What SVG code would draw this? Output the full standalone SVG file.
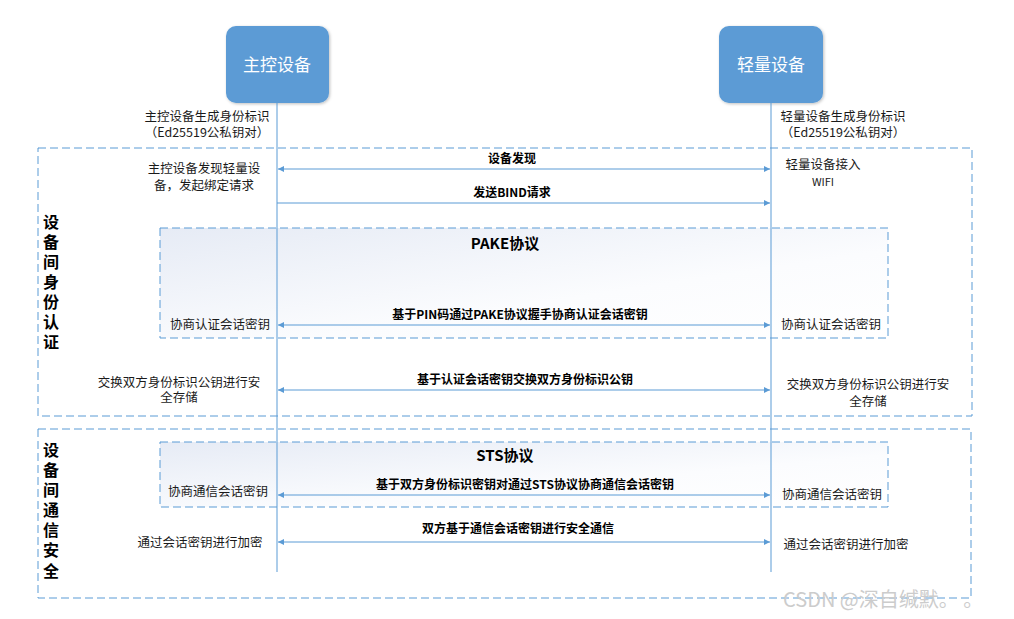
<svg xmlns="http://www.w3.org/2000/svg" width="1014" height="619" viewBox="0 0 1014 619">
<defs>
<style>
.t{font-family:"Noto Sans CJK SC","Liberation Sans",sans-serif;font-size:12.5px;fill:#1a1a1a}
.b{font-family:"Noto Sans CJK SC","Liberation Sans",sans-serif;font-size:12px;font-weight:bold;fill:#000}
.h{font-family:"Noto Sans CJK SC","Liberation Sans",sans-serif;font-size:15px;font-weight:bold;fill:#000}
.v{font-family:"Noto Sans CJK SC","Liberation Sans",sans-serif;font-size:16px;font-weight:bold;fill:#000}
.n{font-family:"Noto Sans CJK SC","Liberation Sans",sans-serif;font-size:17px;fill:#fff}
.box{fill:none;stroke:#5b9bd5;stroke-width:1;stroke-dasharray:8,4}
.ln{stroke:#5b9bd5;stroke-width:1;fill:none}
.node{fill:#5b9bd5}
</style>
<marker id="ah" viewBox="0 0 10 10" refX="10" refY="5" markerWidth="10" markerHeight="6" markerUnits="userSpaceOnUse" orient="auto-start-reverse">
<path d="M0,0 L10,5 L0,10 Z" fill="#5b9bd5"/>
</marker>
<linearGradient id="g" x1="0" y1="0" x2="1" y2="1">
<stop offset="0" stop-color="#e6ebf5"/>
<stop offset="0.6" stop-color="#fbfcfe"/>
<stop offset="1" stop-color="#ffffff"/>
</linearGradient>
<filter id="sh" x="-20%" y="-20%" width="140%" height="140%">
<feDropShadow dx="1" dy="1" stdDeviation="1.5" flood-color="#000" flood-opacity="0.25"/>
</filter>
</defs>
<rect width="1014" height="619" fill="#fff"/>

<g id="section-auth">
<rect class="box" x="38" y="148" width="934" height="268"/>
<text class="v" x="51" y="228" text-anchor="middle">设</text>
<text class="v" x="51" y="248" text-anchor="middle">备</text>
<text class="v" x="51" y="268" text-anchor="middle">间</text>
<text class="v" x="51" y="288" text-anchor="middle">身</text>
<text class="v" x="51" y="308" text-anchor="middle">份</text>
<text class="v" x="51" y="328" text-anchor="middle">认</text>
<text class="v" x="51" y="348" text-anchor="middle">证</text>
</g>
<g id="section-comm">
<rect class="box" x="38" y="429" width="933" height="169"/>
<text class="v" x="51" y="456" text-anchor="middle">设</text>
<text class="v" x="51" y="476" text-anchor="middle">备</text>
<text class="v" x="51" y="496" text-anchor="middle">间</text>
<text class="v" x="51" y="516" text-anchor="middle">通</text>
<text class="v" x="51" y="536" text-anchor="middle">信</text>
<text class="v" x="51" y="556" text-anchor="middle">安</text>
<text class="v" x="51" y="577" text-anchor="middle">全</text>
</g>
<g id="pake">
<rect x="160" y="228" width="728" height="110" fill="url(#g)" stroke="#5b9bd5" stroke-dasharray="8,4"/>
<text class="h" x="505" y="249" text-anchor="middle">PAKE协议</text>
</g>
<g id="sts">
<rect x="160" y="442" width="728" height="65" fill="url(#g)" stroke="#5b9bd5" stroke-dasharray="8,4"/>
<text class="h" x="505" y="461" text-anchor="middle">STS协议</text>
</g>

<g id="master">
<rect class="node" x="226" y="26" width="103" height="77" rx="10" filter="url(#sh)"/>
<text class="n" x="277" y="71" text-anchor="middle">主控设备</text>
</g>
<g id="light">
<rect class="node" x="719" y="26" width="104" height="77" rx="10" filter="url(#sh)"/>
<text class="n" x="771" y="71" text-anchor="middle">轻量设备</text>
</g>

<g id="connectors">
<line class="ln" x1="277" y1="103" x2="277" y2="572"/>
<line class="ln" x1="771" y1="103" x2="771" y2="572"/>
<line class="ln" x1="278" y1="169" x2="770" y2="169" marker-start="url(#ah)" marker-end="url(#ah)"/>
<line class="ln" x1="277" y1="203" x2="770" y2="203" marker-end="url(#ah)"/>
<line class="ln" x1="278" y1="325" x2="770" y2="325" marker-start="url(#ah)" marker-end="url(#ah)"/>
<line class="ln" x1="278" y1="390" x2="770" y2="390" marker-start="url(#ah)" marker-end="url(#ah)"/>
<line class="ln" x1="278" y1="495" x2="770" y2="495" marker-start="url(#ah)" marker-end="url(#ah)"/>
<line class="ln" x1="278" y1="542" x2="770" y2="542" marker-start="url(#ah)" marker-end="url(#ah)"/>
<text class="b" x="512" y="163" text-anchor="middle">设备发现</text>
<text class="b" x="512" y="197" text-anchor="middle">发送BIND请求</text>
<text class="b" x="520" y="319" text-anchor="middle">基于PIN码通过PAKE协议握手协商认证会话密钥</text>
<text class="b" x="525" y="384" text-anchor="middle">基于认证会话密钥交换双方身份标识公钥</text>
<text class="b" x="525" y="489" text-anchor="middle">基于双方身份标识密钥对通过STS协议协商通信会话密钥</text>
<text class="b" x="518" y="533" text-anchor="middle">双方基于通信会话密钥进行安全通信</text>
</g>

<g id="notes">
<text class="t" x="207" y="121" text-anchor="middle">主控设备生成身份标识</text>
<text class="t" x="207" y="137" text-anchor="middle">（Ed25519公私钥对）</text>
<text class="t" x="843" y="121" text-anchor="middle">轻量设备生成身份标识</text>
<text class="t" x="843" y="137" text-anchor="middle">（Ed25519公私钥对）</text>
<text class="t" x="204" y="173" text-anchor="middle">主控设备发现轻量设</text>
<text class="t" x="204" y="190" text-anchor="middle">备，发起绑定请求</text>
<text class="t" x="823" y="169" text-anchor="middle">轻量设备接入</text>
<text class="t" x="823" y="186" text-anchor="middle" style="font-size:11px">WIFI</text>
<text class="t" x="220" y="329" text-anchor="middle">协商认证会话密钥</text>
<text class="t" x="831" y="329" text-anchor="middle">协商认证会话密钥</text>
<text class="t" x="179" y="387" text-anchor="middle">交换双方身份标识公钥进行安</text>
<text class="t" x="179" y="402" text-anchor="middle">全存储</text>
<text class="t" x="868" y="389" text-anchor="middle">交换双方身份标识公钥进行安</text>
<text class="t" x="868" y="406" text-anchor="middle">全存储</text>
<text class="t" x="218" y="496" text-anchor="middle">协商通信会话密钥</text>
<text class="t" x="832" y="499" text-anchor="middle">协商通信会话密钥</text>
<text class="t" x="200" y="547" text-anchor="middle">通过会话密钥进行加密</text>
<text class="t" x="846" y="549" text-anchor="middle">通过会话密钥进行加密</text>
</g>
<text x="783" y="607" style="font-family:'Noto Sans CJK SC','Liberation Sans',sans-serif;font-size:20px;fill:#cccccc">CSDN @深自缄默。 。</text>
</svg>
